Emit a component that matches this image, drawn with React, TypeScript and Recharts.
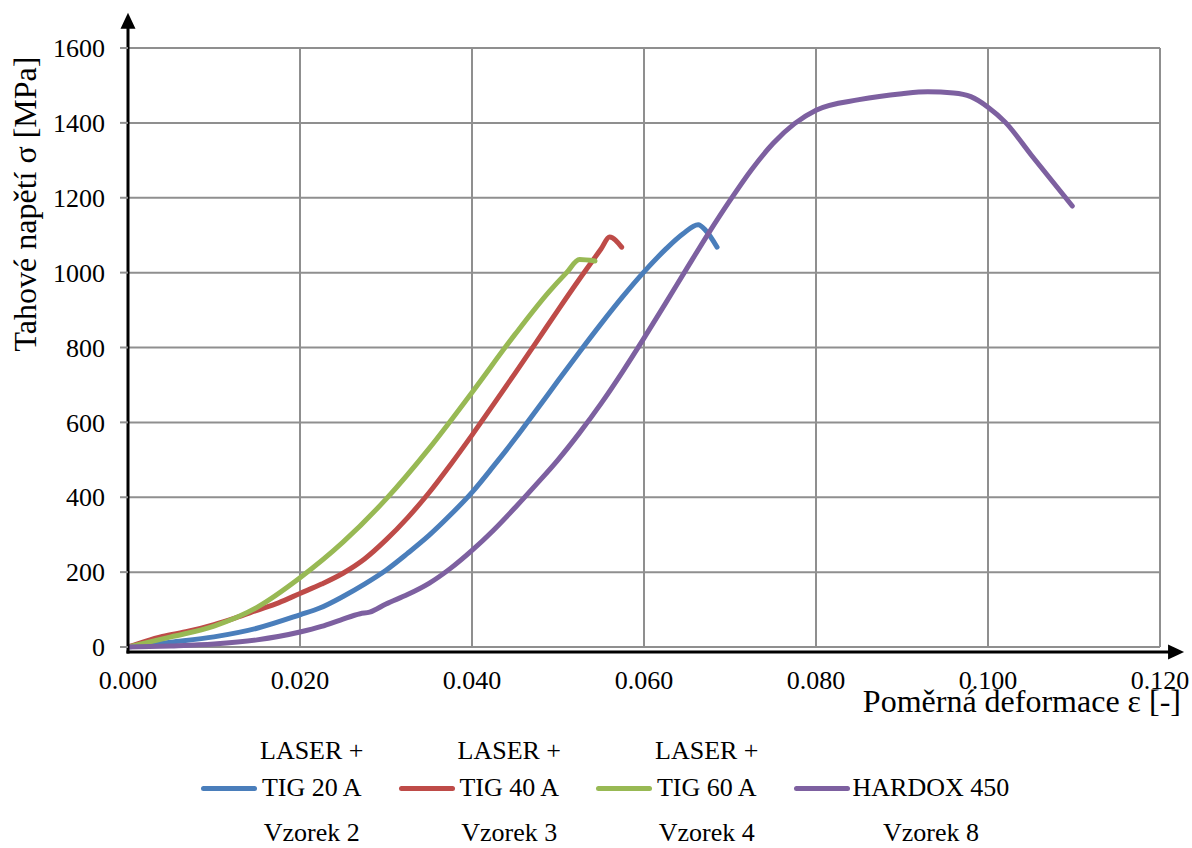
import { CartesianGrid, Line, LineChart, ReferenceLine, XAxis, YAxis } from 'recharts';

// strain [-] / stress [MPa] pairs
const tig20: [number, number][] = [
  [0, 0], [0.005, 13], [0.01, 27], [0.015, 50], [0.02, 86], [0.0223, 104], [0.025, 135],
  [0.0275, 168], [0.03, 205], [0.0325, 250], [0.035, 298], [0.0375, 353], [0.04, 413],
  [0.0425, 483], [0.045, 556], [0.0475, 633], [0.05, 711], [0.0525, 788], [0.055, 863],
  [0.0575, 935], [0.06, 1002], [0.0625, 1062], [0.0645, 1103], [0.0663, 1128], [0.0672, 1112],
  [0.0685, 1068],
];
const tig40: [number, number][] = [
  [0, 0], [0.002, 15], [0.004, 28], [0.007, 42], [0.01, 60], [0.0125, 78], [0.015, 98],
  [0.0175, 118], [0.02, 143], [0.0225, 168], [0.025, 197], [0.0275, 235], [0.03, 286],
  [0.0325, 345], [0.035, 412], [0.0375, 487], [0.04, 566], [0.0425, 648], [0.045, 731],
  [0.0475, 815], [0.05, 900], [0.0525, 983], [0.055, 1063], [0.056, 1095], [0.0574, 1068],
];
const tig60: [number, number][] = [
  [0, 0], [0.005, 27], [0.01, 56], [0.015, 106], [0.02, 185], [0.025, 280], [0.03, 395],
  [0.035, 530], [0.04, 680], [0.045, 835], [0.049, 950], [0.051, 1000], [0.0525, 1035],
  [0.0543, 1031],
];
const hardox: [number, number][] = [
  [0, 0], [0.005, 3], [0.01, 8], [0.015, 19], [0.02, 40], [0.0225, 55], [0.0247, 72],
  [0.027, 89], [0.0281, 93], [0.03, 115], [0.0325, 140], [0.035, 170], [0.0375, 210],
  [0.04, 258], [0.0425, 312], [0.045, 372], [0.0475, 435], [0.05, 500], [0.0525, 572],
  [0.055, 650], [0.0575, 735], [0.06, 825], [0.0625, 918], [0.065, 1012], [0.0675, 1105],
  [0.07, 1193], [0.0725, 1275], [0.075, 1345], [0.0775, 1398], [0.08, 1434], [0.085, 1462],
  [0.09, 1478], [0.093, 1483], [0.096, 1480], [0.098, 1470], [0.1, 1442], [0.102, 1402],
  [0.105, 1315], [0.1098, 1178],
];

const strainTicks = [0, 0.02, 0.04, 0.06, 0.08, 0.1, 0.12];
const stressTicks = [0, 200, 400, 600, 800, 1000, 1200, 1400, 1600];

const legendTop = ['LASER +', 'LASER +', 'LASER +', ''];
const legendMid = ['TIG 20 A', 'TIG 40 A', 'TIG 60 A', 'HARDOX 450'];
const legendBottom = ['Vzorek 2', 'Vzorek 3', 'Vzorek 4', 'Vzorek 8'];
const colors = ['#4A7EBB', '#BE4B48', '#98B954', '#7D60A0'];
const curves = [tig20, tig40, tig60, hardox];

// where the drawn arrows end, in data units
const Y_ARROW_TIP = 1694;
const X_ARROW_TIP = 0.1228;
const X_AXIS_DROP = 5;

const FONT = "'Liberation Serif', Tinos, 'Times New Roman', 'DejaVu Serif', serif";
const GRID = '#8f8f8f';

function toPoints(pairs: [number, number][]) {
  return pairs.map(([x, y]) => ({ x, y }));
}

function UpArrow(props: any) {
  const { x1, y1, x2, y2 } = props;
  return (
    <g>
      <line x1={x1} y1={y1 + X_AXIS_DROP + 1.5} x2={x2} y2={y2 + 12} stroke="#000" strokeWidth={3} />
      <polygon points={`${x2},${y2} ${x2 - 7.5},${y2 + 16} ${x2 + 7.5},${y2 + 16}`} fill="#000" />
    </g>
  );
}

function RightArrow(props: any) {
  const { x1, y1, x2 } = props;
  const y = y1 + X_AXIS_DROP;
  return (
    <g>
      <line x1={x1 - 1.5} y1={y} x2={x2 - 12} y2={y} stroke="#000" strokeWidth={3} />
      <polygon points={`${x2},${y} ${x2 - 16},${y - 7.5} ${x2 - 16},${y + 7.5}`} fill="#000" />
    </g>
  );
}

export default function App() {
  return (
    <div style={{ position: 'absolute', left: 0, top: 0, width: 1192, height: 848, background: '#fff', fontFamily: FONT }}>
      <LineChart width={1192} height={848} margin={{ top: 48, right: 32, bottom: 0, left: 0 }} style={{ fontFamily: FONT }}>
        <CartesianGrid stroke={GRID} strokeWidth={2} />
        <XAxis
          type="number"
          dataKey="x"
          domain={[0, 0.12]}
          ticks={strainTicks}
          tickFormatter={(v: number) => v.toFixed(3)}
          axisLine={false}
          tickLine={false}
          tickSize={0}
          tickMargin={24}
          height={201}
          allowDataOverflow
          tick={{ fontSize: 26, fill: '#000', fontFamily: FONT }}
          label={{
            content: () => (
              <text x={1181} y={712} textAnchor="end" fontSize={32} fill="#000" style={{ fontFamily: FONT }}>
                Poměrná deformace ε [-]
              </text>
            ),
          }}
        />
        <YAxis
          type="number"
          domain={[0, 1600]}
          ticks={stressTicks}
          axisLine={false}
          tickLine={{ stroke: GRID, strokeWidth: 2 }}
          tickSize={8}
          tickMargin={15}
          width={128}
          tick={{ fontSize: 26, fill: '#000', fontFamily: FONT }}
          label={{
            content: () => (
              <text
                x={36}
                y={204}
                transform="rotate(-90 36 204)"
                textAnchor="middle"
                fontSize={32}
                fill="#000"
                style={{ fontFamily: FONT }}
              >
                Tahové napětí σ [MPa]
              </text>
            ),
          }}
        />
        {curves.map((c, i) => (
          <Line
            key={legendMid[i]}
            data={toPoints(c)}
            dataKey="y"
            type="monotone"
            stroke={colors[i]}
            strokeWidth={5}
            strokeLinecap="round"
            dot={false}
            activeDot={false}
            isAnimationActive={false}
          />
        ))}
        <ReferenceLine
          segment={[{ x: 0, y: 0 }, { x: 0, y: Y_ARROW_TIP }]}
          ifOverflow="visible"
          shape={UpArrow}
        />
        <ReferenceLine
          segment={[{ x: 0, y: 0 }, { x: X_ARROW_TIP, y: 0 }]}
          ifOverflow="visible"
          shape={RightArrow}
        />
      </LineChart>

      <div style={{ position: 'absolute', left: 201, top: 732, display: 'flex', gap: 35, fontSize: 26, color: '#000' }}>
        {legendMid.map((name, i) => (
          <div key={name} style={{ display: 'flex', alignItems: 'flex-start' }}>
            <div style={{ width: 56, height: 5, borderRadius: 3, background: colors[i], marginTop: 53.5, marginRight: 3 }} />
            <div style={{ display: 'flex', flexDirection: 'column', alignItems: 'center', whiteSpace: 'nowrap' }}>
              <div style={{ height: 37, lineHeight: '37px' }}>{legendTop[i]}</div>
              <div style={{ height: 37, lineHeight: '37px' }}>{name}</div>
              <div style={{ height: 37, lineHeight: '37px', marginTop: 8 }}>{legendBottom[i]}</div>
            </div>
          </div>
        ))}
      </div>
    </div>
  );
}
